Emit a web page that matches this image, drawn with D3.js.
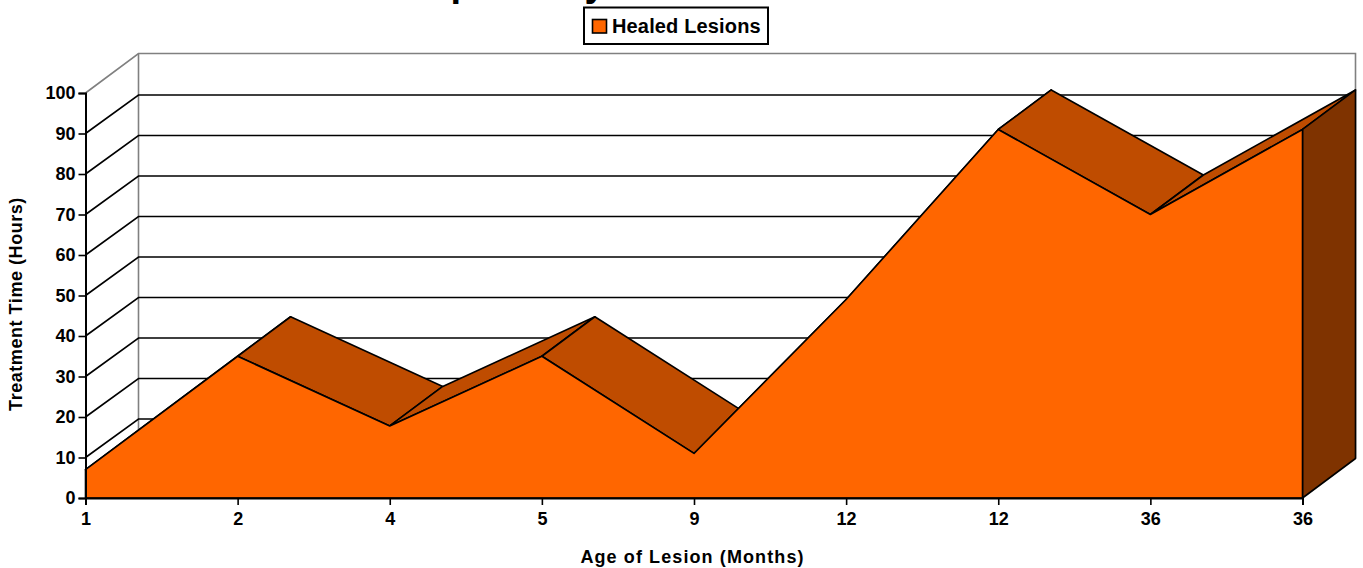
<!DOCTYPE html>
<html>

<head>
    <title>Healed Lesions</title>
    <script src="https://cdnjs.cloudflare.com/ajax/libs/d3/7.6.1/d3.min.js"></script>
    <style>
        html,
        body {
            margin: 0;
            padding: 0;
            background-color: white;
            overflow: hidden;
        }

        text {
            font-family: "Liberation Sans", Arial, sans-serif;
            font-weight: bold;
            fill: black;
        }
    </style>
</head>

<body>
    <div id="chart"></div>
    <script>
        const ageLabels = ["1", "2", "4", "5", "9", "12", "12", "36", "36"];
        const healedLesions = [7, 35, 17.8, 35, 11, 49, 91, 70, 91];
        const yTicks = [0, 10, 20, 30, 40, 50, 60, 70, 80, 90, 100];

        const width = 1363;
        const height = 568;
        const depthX = 53;
        const depthY = -39.5;
        const gridDepthY = -38.5;
        const frontColor = "#ff6600";
        const topColor = "#bf4c00";
        const sideColor = "#7f3300";

        const svg = d3.select("#chart")
            .append("svg")
            .attr("width", width)
            .attr("height", height)
            .style("display", "block");

        const xScale = d3.scaleLinear()
            .domain([0, ageLabels.length - 1])
            .range([85.5, 1302.5]);

        const yScale = d3.scaleLinear()
            .domain([0, 100])
            .range([498, 93]);

        function polygon(points, fill) {
            svg.append("polygon")
                .attr("points", points.map(p => p.join(",")).join(" "))
                .attr("fill", fill)
                .attr("stroke", "black")
                .attr("stroke-width", 1.6)
                .attr("stroke-linejoin", "round");
        }

        // walls
        const backLeft = xScale(0) + depthX;
        const backRight = xScale(ageLabels.length - 1) + depthX;

        svg.append("path")
            .attr("d", `M${xScale(0)},${yScale(100)}L${backLeft},${yScale(100) + depthY}L${backRight},${yScale(100) + depthY}L${backRight},${yScale(0) + depthY}`)
            .attr("fill", "none")
            .attr("stroke", "#808080")
            .attr("stroke-width", 1.6);

        svg.append("line")
            .attr("x1", backLeft)
            .attr("x2", backLeft)
            .attr("y1", yScale(100) + depthY)
            .attr("y2", yScale(0) + depthY)
            .attr("stroke", "#808080")
            .attr("stroke-width", 1.6);

        // gridlines, back wall and the slant on the left wall
        yTicks.filter(d => d > 0 && d < 100).forEach(d => {
            svg.append("path")
                .attr("d", `M${xScale(0)},${yScale(d)}L${backLeft},${yScale(d) + gridDepthY}L${backRight},${yScale(d) + gridDepthY}`)
                .attr("fill", "none")
                .attr("stroke", "black")
                .attr("stroke-width", 1.6);
        });

        // top faces of the area, left to right
        healedLesions.slice(0, -1).forEach((d, i) => {
            const next = healedLesions[i + 1];
            polygon([
                [xScale(i), yScale(d)],
                [xScale(i + 1), yScale(next)],
                [xScale(i + 1) + depthX, yScale(next) + depthY],
                [xScale(i) + depthX, yScale(d) + depthY]
            ], topColor);
        });

        // right side
        const lastIndex = healedLesions.length - 1;
        const lastValue = healedLesions[lastIndex];
        polygon([
            [xScale(lastIndex), yScale(lastValue)],
            [xScale(lastIndex) + depthX, yScale(lastValue) + depthY],
            [xScale(lastIndex) + depthX, yScale(0) + depthY],
            [xScale(lastIndex), yScale(0)]
        ], sideColor);

        // front face
        const frontArea = d3.area()
            .x((d, i) => xScale(i))
            .y0(yScale(0))
            .y1(d => yScale(d));

        svg.append("path")
            .attr("d", frontArea(healedLesions))
            .attr("fill", frontColor)
            .attr("stroke", "black")
            .attr("stroke-width", 1.6)
            .attr("stroke-linejoin", "round");

        // axes
        const yAxis = d3.axisLeft(yScale)
            .tickValues(yTicks)
            .tickSize(7)
            .tickPadding(3);

        const xAxis = d3.axisBottom(xScale)
            .tickValues(d3.range(ageLabels.length))
            .tickFormat(i => ageLabels[i])
            .tickSize(7)
            .tickPadding(7);

        const yAxisG = svg.append("g")
            .attr("transform", `translate(${xScale(0)},0)`)
            .call(yAxis);

        const xAxisG = svg.append("g")
            .attr("transform", `translate(0,${yScale(0)})`)
            .call(xAxis);

        [yAxisG, xAxisG].forEach(g => {
            g.selectAll("path").attr("stroke", "black").attr("stroke-width", 2);
            g.selectAll("line").attr("stroke", "black").attr("stroke-width", 1.6);
            g.selectAll("text")
                .style("font-size", "18px")
                .style("font-family", "'Liberation Sans', Arial, sans-serif")
                .style("font-weight", "bold");
        });

        // axis titles
        svg.append("text")
            .attr("x", 692.5)
            .attr("y", 563)
            .attr("text-anchor", "middle")
            .style("font-size", "18px")
            .style("letter-spacing", "1.1px")
            .text("Age of Lesion (Months)");

        svg.append("text")
            .attr("transform", "translate(22,304) rotate(-90)")
            .attr("text-anchor", "middle")
            .style("font-size", "18px")
            .style("letter-spacing", "0.55px")
            .text("Treatment Time (Hours)");

        // only the descenders of the cropped title are in the picture
        [["p", 462], ["y", 595]].forEach(([letter, x]) => {
            svg.append("text")
                .attr("x", x)
                .attr("y", -4)
                .attr("text-anchor", "middle")
                .style("font-size", "38px")
                .text(letter);
        });

        // legend
        svg.append("rect")
            .attr("x", 584)
            .attr("y", 7.5)
            .attr("width", 184)
            .attr("height", 36.5)
            .attr("fill", "white")
            .attr("stroke", "black")
            .attr("stroke-width", 2);

        svg.append("rect")
            .attr("x", 592.5)
            .attr("y", 19.5)
            .attr("width", 14)
            .attr("height", 13.5)
            .attr("fill", frontColor)
            .attr("stroke", "black")
            .attr("stroke-width", 1.6);

        svg.append("text")
            .attr("x", 612)
            .attr("y", 33)
            .style("font-size", "20px")
            .style("letter-spacing", "0.15px")
            .text("Healed Lesions");
    </script>
</body>

</html>
